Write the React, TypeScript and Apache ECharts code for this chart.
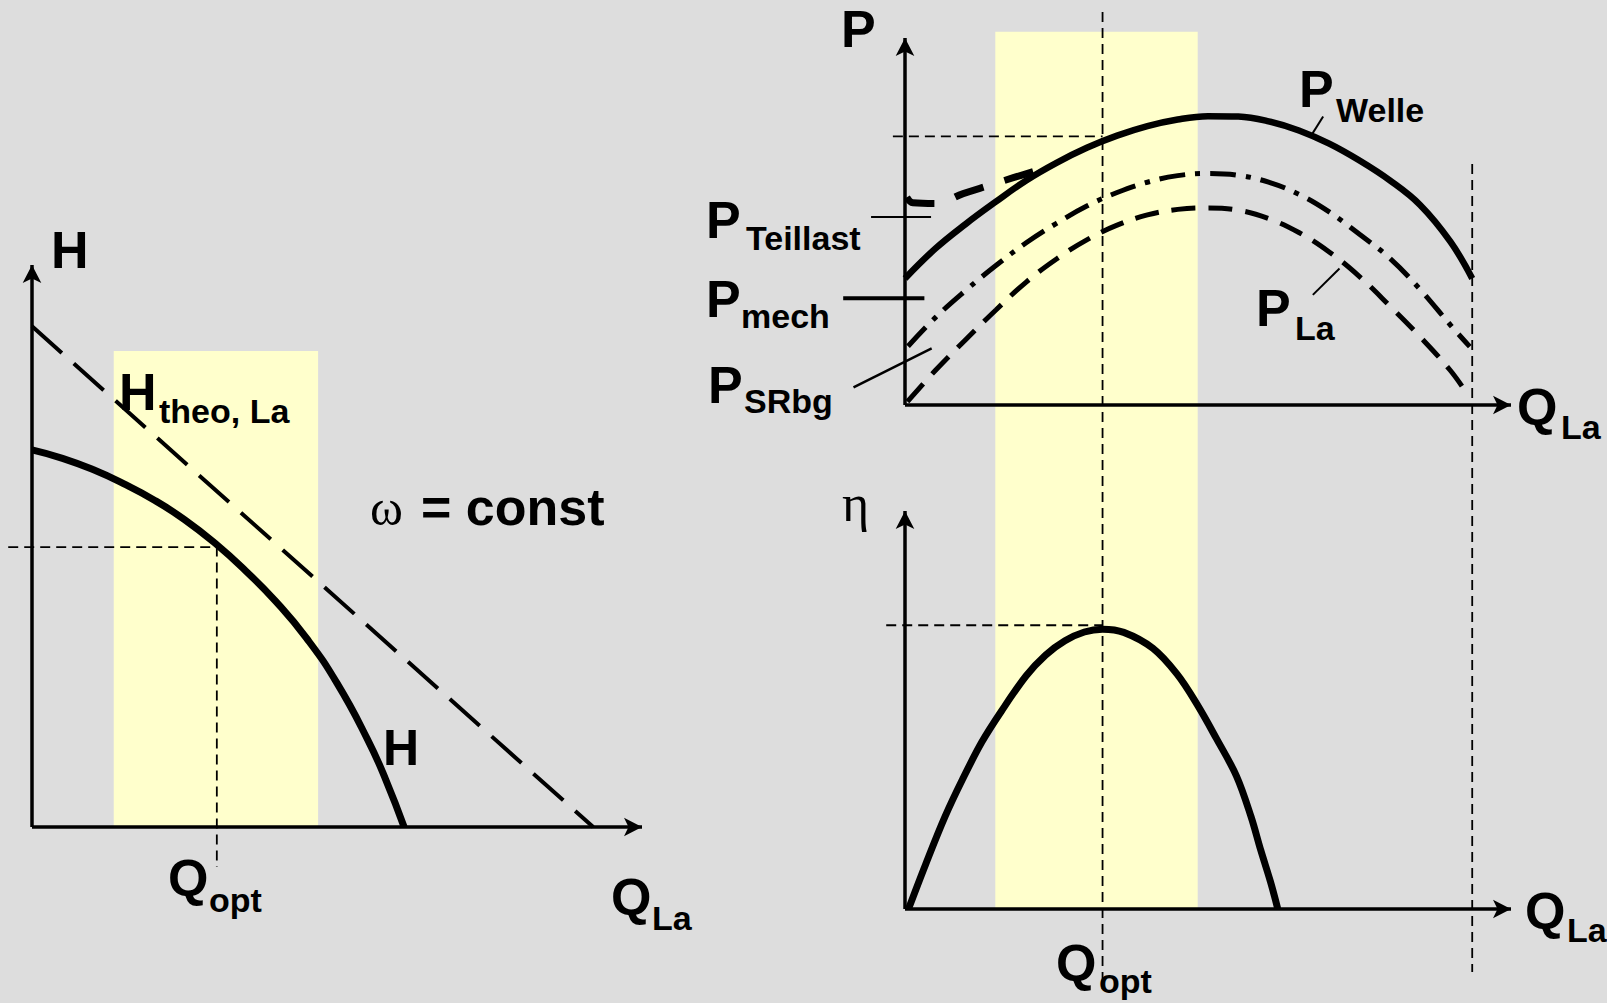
import React, { useEffect, useRef } from 'react';
import * as echarts from 'echarts';

type Pt = [number, number];

// ---------- Left chart: H over Q_La (units: axis length = 100) ----------
const H_THEO: Pt[] = [[0, 89.1], [92, 0]];
const H_CURVE: Pt[] = [
  [0, 67.1], [5, 65.6], [10, 63.6], [15, 61.1], [20, 58.2], [25, 54.7], [30, 50.5],
  [35, 45.6], [40, 40.1], [45, 33.6], [50, 25.6], [55, 15.6], [58, 8.4], [61, 0],
];
const LEFT_OPT: Pt[] = [[-3.9, 49.8], [30.3, 49.8], [30.3, -7.1]];
const LEFT_BAND = [13.4, 46.9, 84.7]; // Q from, Q to, H top

// ---------- Top right chart: P over Q_La ----------
const P_WELLE: Pt[] = [
  [0, 34.5], [5, 42.6], [10, 49.3], [15, 55.4], [20, 61.2], [25, 66], [30, 70.1],
  [35, 73.4], [40, 76], [45, 77.8], [50, 78.7], [55, 78.6], [60, 77.3], [65, 74.8],
  [70, 71.2], [75, 66.6], [80, 61.2], [85, 54.5], [90, 44.5], [93.6, 34.5],
];
const P_TEILLAST: Pt[] = [[0.3, 56.6], [1.3, 55.1], [5, 54.9], [9.6, 57.6], [14, 59.9], [18, 62], [22, 64]];
const P_MECH: Pt[] = [
  [0.5, 16], [5, 23.8], [10, 31.2], [15, 38], [20, 44.2], [25, 49.5], [30, 54.2],
  [35, 57.9], [40, 60.7], [45, 62.5], [50, 63.1], [55, 62.6], [60, 60.7], [65, 57.4],
  [70, 52.6], [75, 46.5], [80, 40], [85, 31.5], [90, 21.8], [93.2, 15.9],
];
const P_LA: Pt[] = [
  [0.4, 0.9], [5, 9.4], [10, 17.8], [15, 25.9], [20, 33.5], [25, 39.8], [30, 45],
  [35, 49], [40, 51.8], [45, 53.3], [50, 53.7], [55, 53.1], [60, 50.8], [65, 47],
  [70, 41.7], [75, 35], [80, 27], [85, 18.6], [90, 9.4], [92.7, 3.2],
];
const TOP_OPT_H: Pt[] = [[-2, 73.2], [32.6, 73.2]];
const TEILLAST_TICK: Pt[] = [[-5.6, 51.2], [4.3, 51.2]];
const MECH_TICK: Pt[] = [[-10.2, 29.1], [3.2, 29.1]];
const SRBG_LEADER: Pt[] = [[-8.5, 4.8], [4.4, 15.4]];
const WELLE_LEADER: Pt[] = [[67.1, 73.6], [69, 78.6]];
const LA_LEADER: Pt[] = [[67.3, 30], [71.7, 37.2]];

// ---------- Bottom right chart: eta over Q_La ----------
const ETA: Pt[] = [
  [0.6, 0.1], [3.4, 11.2], [6.6, 23.2], [9.5, 32.6], [12.7, 42], [15.9, 49.7], [20, 58.6],
  [23.2, 63.8], [26.4, 67.4], [29.6, 69.6], [32.6, 70.3], [36.1, 69.5], [40.9, 65.5],
  [44.9, 59], [48.2, 51.4], [51.4, 42.8], [54.7, 33.4], [57.1, 23.2], [58.7, 14.8],
  [60.3, 6.9], [61.5, 0.1],
];
const ETA_OPT_H: Pt[] = [[-3.1, 71.3], [32.6, 71.3]];
const Q_OPT_V: Pt[] = [[32.6, 225.4], [32.6, -20.1]];
const Q_MAX_V: Pt[] = [[93.6, 187.2], [93.6, -15.8]];
const RIGHT_BAND = [14.9, 48.3, 220.4]; // Q from, Q to, eta top (spans both right charts)

// axis extents (Q axis starts left of zero so annotation lines can reach past the P / H / eta axes)
const X_MIN = [-4, -11, -4];
const X_MAX = 100;
const Y_MAX = 100;

const BLACK = '#000000';
const YELLOW = '#ffffcc';
const BG = '#dddddd';
const SANS = '"Liberation Sans", Arial, Helvetica, sans-serif';
const SERIF = '"Liberation Serif", "Times New Roman", serif';

function line(data: Pt[], grid: number, width: number, type: any = 'solid', smooth: number | boolean = 0.35) {
  return {
    type: 'line',
    xAxisIndex: grid,
    yAxisIndex: grid,
    data,
    symbol: 'none',
    showSymbol: false,
    smooth,
    clip: false,
    silent: true,
    z: 3,
    lineStyle: { color: BLACK, width, type },
  };
}

function band(grid: number, b: number[]) {
  return {
    type: 'custom',
    xAxisIndex: grid,
    yAxisIndex: grid,
    z: 0,
    silent: true,
    clip: false,
    data: [b],
    renderItem: (_p: any, api: any) => {
      const p0 = api.coord([api.value(0), 0]);
      const p1 = api.coord([api.value(1), api.value(2)]);
      return {
        type: 'rect',
        shape: { x: p0[0], y: p1[1], width: p1[0] - p0[0], height: p0[1] - p1[1] },
        style: { fill: YELLOW },
      };
    },
  };
}

// Q axis and value axis drawn as arrows from the origin
function axesSeries(grid: number) {
  return {
    type: 'line',
    xAxisIndex: grid,
    yAxisIndex: grid,
    data: [[0, 0]],
    symbol: 'none',
    showSymbol: false,
    silent: true,
    clip: false,
    z: 1,
    lineStyle: { width: 0 },
    markLine: {
      silent: true,
      animation: false,
      symbol: ['none', 'arrow'],
      symbolSize: [14, 18],
      label: { show: false },
      emphasis: { disabled: true },
      lineStyle: { color: BLACK, width: 3.5, type: 'solid' },
      data: [
        [{ coord: [0, 0], symbol: 'none' }, { coord: [X_MAX, 0], symbol: 'arrow', symbolSize: [14, 18] }],
        [{ coord: [0, 0], symbol: 'none' }, { coord: [0, Y_MAX], symbol: 'arrow', symbolSize: [14, 18] }],
      ],
    },
  };
}

function xAxis(grid: number) {
  return {
    type: 'value', gridIndex: grid, min: X_MIN[grid], max: X_MAX, show: false,
    splitLine: { show: false },
  };
}
function yAxis(grid: number) {
  return {
    type: 'value', gridIndex: grid, min: 0, max: Y_MAX, show: false,
    splitLine: { show: false },
  };
}

function lab(text: string, x: number, baseline: number, size: number, serif = false, bold = true) {
  const k = serif ? 0.3375 : 0.3465;
  return {
    type: 'text',
    x,
    y: baseline - k * size,
    z: 100,
    silent: true,
    style: {
      text,
      fill: BLACK,
      font: `${bold ? 'bold ' : ''}${size}px ${serif ? SERIF : SANS}`,
      textAlign: 'left',
      textVerticalAlign: 'middle',
    },
  };
}

const BIG = 52;
const SUB = 34;

// pixel scales of the three plots
const LEFT_PX = 6.1;
const RIGHT_PX = 6.06;

const option: any = {
  animation: false,
  backgroundColor: BG,
  grid: [
    { left: 32 + X_MIN[0] * LEFT_PX, top: 265, width: (X_MAX - X_MIN[0]) * LEFT_PX, height: 562 },
    { left: 905 + X_MIN[1] * RIGHT_PX, top: 38, width: (X_MAX - X_MIN[1]) * RIGHT_PX, height: 367 },
    { left: 905 + X_MIN[2] * RIGHT_PX, top: 511, width: (X_MAX - X_MIN[2]) * RIGHT_PX, height: 398 },
  ],
  xAxis: [xAxis(0), xAxis(1), xAxis(2)],
  yAxis: [yAxis(0), yAxis(1), yAxis(2)],
  series: [
    band(0, LEFT_BAND),
    band(2, RIGHT_BAND),
    axesSeries(0),
    axesSeries(1),
    axesSeries(2),
    // left chart
    line(H_THEO, 0, 4, [40, 16], false),
    line(H_CURVE, 0, 7, 'solid', 0.5),
    line(LEFT_OPT, 0, 1.8, [10, 6], false),
    // top right chart
    line(TOP_OPT_H, 1, 1.8, [10, 6], false),
    line(P_WELLE, 1, 6.5, 'solid', 0.4),
    line(P_TEILLAST, 1, 7, [30, 22], 0.4),
    line(P_MECH, 1, 5, [26, 10, 5, 10], 0.4),
    line(P_LA, 1, 5, [24, 13], 0.4),
    line(TEILLAST_TICK, 1, 2, 'solid', false),
    line(MECH_TICK, 1, 4, 'solid', false),
    line(SRBG_LEADER, 1, 2.5, 'solid', false),
    line(WELLE_LEADER, 1, 2, 'solid', false),
    line(LA_LEADER, 1, 2, 'solid', false),
    // bottom right chart
    line(ETA_OPT_H, 2, 1.8, [10, 6], false),
    line(Q_OPT_V, 2, 1.8, [10, 6], false),
    line(Q_MAX_V, 2, 1.8, [10, 6], false),
    line(ETA, 2, 7, 'solid', 0.35),
  ],
  graphic: {
    elements: [
      // left chart labels
      lab('H', 51, 268, BIG),
      lab('H', 119, 410, BIG),
      lab('theo, La', 159, 423, SUB),
      lab('\u03C9', 370, 525, 50, true, false),
      lab('= const', 421, 525, BIG),
      lab('H', 383, 765, 50),
      lab('Q', 168, 896, BIG),
      lab('opt', 209, 912, SUB),
      lab('Q', 611, 915, BIG),
      lab('La', 652, 930, SUB),
      // top right labels
      lab('P', 841, 47, BIG),
      lab('P', 1299, 107, BIG),
      lab('Welle', 1336, 122, SUB),
      lab('P', 706, 238, BIG),
      lab('Teillast', 746, 250, SUB),
      lab('P', 706, 317, BIG),
      lab('mech', 741, 328, SUB),
      lab('P', 708, 403, BIG),
      lab('SRbg', 744, 413, SUB),
      lab('P', 1256, 326, BIG),
      lab('La', 1295, 340, SUB),
      lab('Q', 1517, 425, BIG),
      lab('La', 1561, 439, SUB),
      // bottom right labels
      lab('\u03B7', 842, 521, 52, true, false),
      lab('Q', 1525, 929, BIG),
      lab('La', 1567, 942, SUB),
      lab('Q', 1056, 981, BIG),
      lab('opt', 1099, 993, SUB),
    ],
  },
};

export default function App() {
  const ref = useRef<HTMLDivElement>(null);
  useEffect(() => {
    if (!ref.current) return;
    const chart = echarts.init(ref.current, null, { renderer: 'svg', width: 1607, height: 1003 });
    chart.setOption(option);
    return () => chart.dispose();
  }, []);
  return (
    <div
      ref={ref}
      style={{ position: 'fixed', left: 0, top: 0, width: 1607, height: 1003, background: BG }}
    />
  );
}
